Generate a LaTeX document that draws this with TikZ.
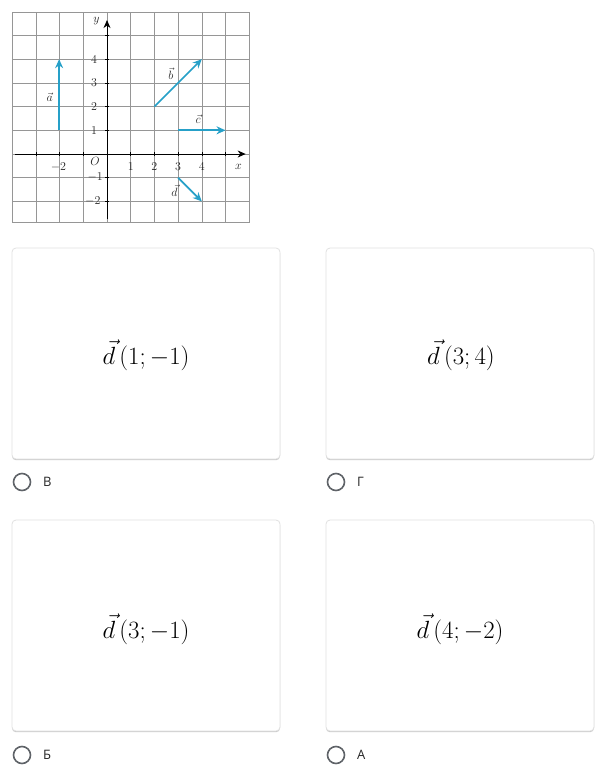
\documentclass[tikz,border=0pt]{standalone}
\usepackage{fontspec}
\newfontfamily\uifont{Open Sans}
\usetikzlibrary{arrows.meta}
\definecolor{gridc}{RGB}{150,150,150}
\definecolor{vecc}{RGB}{38,160,200}
\definecolor{cardb}{RGB}{225,225,225}
\definecolor{cards}{RGB}{200,200,200}
\definecolor{radioc}{RGB}{95,99,104}
\tikzset{
  gridline/.style={draw=gridc, line width=0.6pt},
  axisline/.style={draw=black, line width=0.8pt, -{Stealth[length=8pt,width=7pt]}},
  vecline/.style={draw=vecc, line width=1.7pt, -{Stealth[length=9pt,width=8pt]}},
  ticklbl/.style={font=\fontsize{12}{14}\selectfont, inner sep=0pt, text=black!85},
  card/.style={draw=cardb, line width=0.8pt, fill=white, rounded corners=4pt, minimum width=268pt, minimum height=211pt, inner sep=0pt},
  cardshadow/.style={fill=cards, rounded corners=4pt, minimum width=268pt, minimum height=211pt, inner sep=0pt},
  cardtxt/.style={font=\fontsize{23}{27}\selectfont, inner sep=0pt},
  radio/.style={circle, draw=radioc, line width=1.6pt, minimum size=17pt, inner sep=0pt},
  optlbl/.style={font=\uifont\fontsize{13}{15}\selectfont, anchor=west, inner sep=0pt, text=black!85}
}
\begin{document}
\begin{tikzpicture}[x=1pt,y=-1pt]
\useasboundingbox (0,0) rectangle (610,769);
\fill[white] (0,0) rectangle (610,769);
% graph
\begin{scope}[shift={(107,154)}]
\begin{scope}[x=23.7pt,y=23.7pt]
  \draw[gridline, step=1] (-4,-2.9) grid (6,6);
  \draw[gridline] (-4,-2.9) rectangle (6,6);
  \coordinate (xs) at (-3.9,0); \coordinate (xe) at (5.85,0);
  \coordinate (ys) at (0,-2.75); \coordinate (ye) at (0,5.65);
  \draw[axisline] (xs) -- (xe);
  \draw[axisline] (ys) -- (ye);
  \foreach \i in {-3,-2,-1,1,2,3,4,5} \draw[line width=0.6pt] (\i,-0.08) -- (\i,0.08);
  \foreach \j in {-2,-1,1,2,3,4,5} \draw[line width=0.6pt] (-0.08,\j) -- (0.08,\j);
  \node[ticklbl] (lx) at (5.55,-0.55) {$x$};
  \node[ticklbl] (ly) at (-0.45,5.6) {$y$};
  \node[ticklbl] (lo) at (-0.5,-0.33) {$O$};
  \node[ticklbl] (tm2) at (-2.05,-0.55) {$-2$};
  \foreach \i in {1,2,3,4} \node[ticklbl] (tx\i) at (\i,-0.55) {$\i$};
  \foreach \j in {1,2,3,4} \node[ticklbl] (ty\j) at (-0.55,\j) {$\j$};
  \node[ticklbl] (tym1) at (-0.5,-0.98) {$-1$};
  \node[ticklbl] (tym2) at (-0.6,-2) {$-2$};
  % vectors
  \coordinate (a1) at (-2.02,1); \coordinate (a2) at (-2.02,4);
  \coordinate (b1) at (2,2); \coordinate (b2) at (4,4);
  \coordinate (c1) at (3,1); \coordinate (c2) at (5,1);
  \coordinate (d1) at (3,-1); \coordinate (d2) at (4,-2);
  \draw[vecline] (a1) -- (a2);
  \draw[vecline] (b1) -- (b2);
  \draw[vecline] (c1) -- (c2);
  \draw[vecline] (d1) -- (d2);
  \node[ticklbl] (la) at (-2.42,2.4) {$\vec a$};
  \node[ticklbl] (lb) at (2.7,3.4) {$\vec b$};
  \node[ticklbl] (lc) at (3.85,1.45) {$\vec c$};
  \node[ticklbl] (ld) at (2.85,-1.55) {$\vec d$};
\end{scope}
\end{scope}
% cards
\foreach \n/\cx/\cy in {1/146/353.5, 2/460/353.5, 3/146/625.5, 4/460/625.5} {
  \node[cardshadow] (ks\n) at (\cx,\cy+1.2) {};
  \node[card] (k\n) at (\cx,\cy) {};
}
\node[cardtxt] (t1) at (146,355) {$\vec d\,(1;-1)$};
\node[cardtxt] (t2) at (461,355) {$\vec d\,(3;4)$};
\node[cardtxt] (t3) at (146,629) {$\vec d\,(3;-1)$};
\node[cardtxt] (t4) at (460,629) {$\vec d\,(4;-2)$};
% radios
\node[radio] (r1) at (22,482) {};
\node[radio] (r2) at (336,482) {};
\node[radio] (r3) at (22,755) {};
\node[radio] (r4) at (336,755) {};
\node[optlbl] (o1) at (43,482) {В};
\node[optlbl] (o2) at (357,482) {Г};
\node[optlbl] (o3) at (43,755) {Б};
\node[optlbl] (o4) at (357,755) {А};
\end{tikzpicture}
\end{document}
